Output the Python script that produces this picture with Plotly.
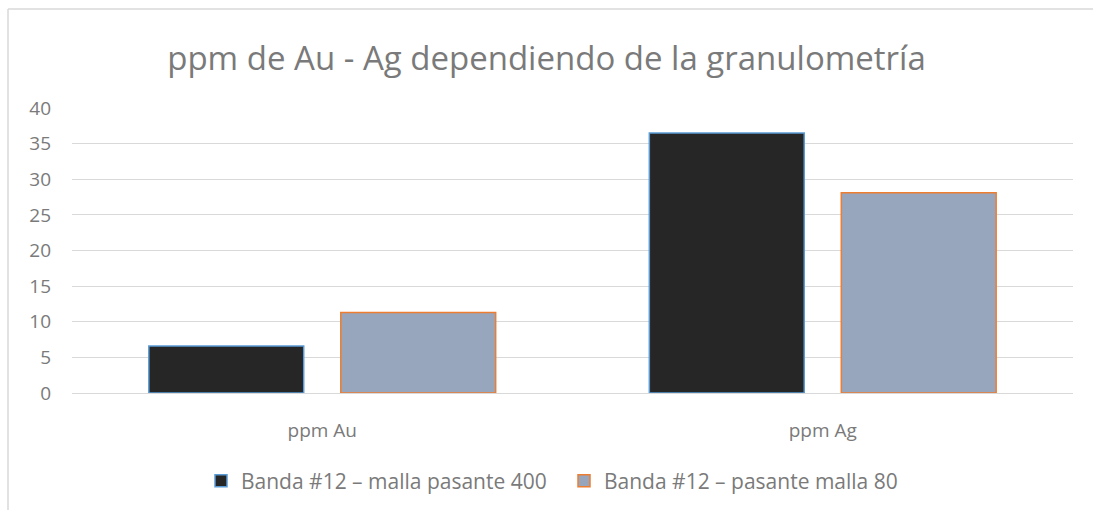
import plotly.graph_objects as go

categories = ["ppm Au", "ppm Ag"]
series_names = ["Banda #12 – malla pasante 400", "Banda #12 – pasante malla 80"]
malla_400 = [6.6, 36.5]
malla_80 = [11.3, 28.1]
y_ticks = [0, 5, 10, 15, 20, 25, 30, 35, 40]

FONT = "Open Sans"
TXT = "#7a7a7a"

fig = go.Figure()
fig.add_trace(go.Bar(
    x=categories, y=malla_400, name=series_names[0],
    marker=dict(color="#262626", line=dict(color="#5B9BD5", width=1.5)),
))
fig.add_trace(go.Bar(
    x=categories, y=malla_80, name=series_names[1],
    marker=dict(color="#97A6BC", line=dict(color="#ED7D31", width=1.5)),
))

W, H = 1093, 510
L, R, T, B = 72, 20, 108, 117
pw, ph = W - L - R, H - T - B

bx0 = (8 - L) / pw
by1 = 1 + (T - 9) / ph
border = dict(color="#D9D9D9", width=1.5)

fig.update_layout(
    width=W, height=H,
    margin=dict(l=L, r=R, t=T, b=B),
    paper_bgcolor="white", plot_bgcolor="white",
    barmode="group", bargap=0.233, bargroupgap=0.193,
    title=dict(text="ppm de Au - Ag dependiendo de la granulometría",
               x=0.5, xanchor="center", y=1 - 58 / H, yanchor="middle",
               font=dict(family=FONT, size=33, color=TXT)),
    font=dict(family=FONT, size=19, color=TXT),
    showlegend=True,
    legend=dict(orientation="h", x=(564 - L) / pw, xanchor="center",
                yref="container", y=1 - 481 / H, yanchor="middle",
                font=dict(family=FONT, size=21, color=TXT), traceorder="normal",
                entrywidth=318, entrywidthmode="pixels"),
    xaxis=dict(showgrid=False, showline=False, ticks="", tickfont=dict(size=19, color=TXT),
               ticklabelstandoff=24, automargin=False),
    yaxis=dict(range=[0, 40], tickvals=y_ticks, showgrid=True, gridcolor="#D9D9D9", gridwidth=1,
               zeroline=True, zerolinecolor="#D9D9D9", zerolinewidth=1, showline=False,
               ticks="", tickfont=dict(size=19, color=TXT), ticklabelstandoff=20, automargin=False),
    shapes=[
        dict(type="line", xref="paper", yref="paper", x0=bx0, x1=bx0, y0=by1, y1=-1.0, line=border),
        dict(type="line", xref="paper", yref="paper", x0=bx0, x1=1.2, y0=by1, y1=by1, line=border),
    ],
)

fig.write_html("out.html", config={"displayModeBar": False},
               post_script="document.body.style.margin='0';document.body.style.overflow='hidden';")
